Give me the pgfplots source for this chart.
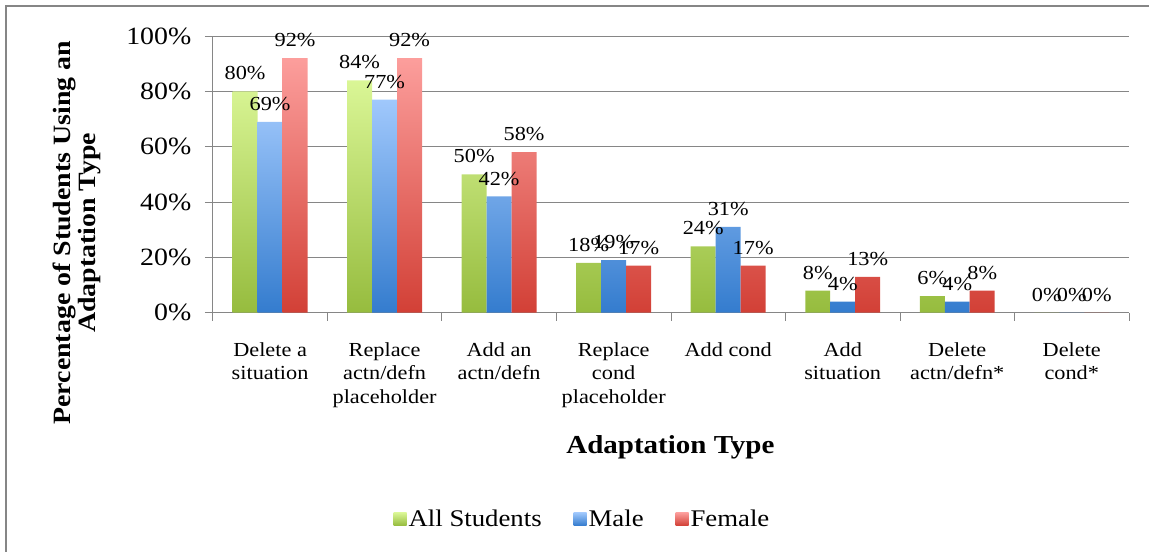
\documentclass[border=0pt]{standalone}
\usepackage{pgfplots}
\pgfplotsset{compat=1.18}
\usepackage{fontspec}
\setmainfont[FakeStretch=1.12]{Liberation Serif}
\definecolor{gtop}{RGB}{218,246,150}
\definecolor{gbot}{RGB}{150,188,62}
\definecolor{btop}{RGB}{160,200,252}
\definecolor{bbot}{RGB}{52,124,206}
\definecolor{rtop}{RGB}{252,158,156}
\definecolor{rbot}{RGB}{210,64,54}
\definecolor{axgray}{RGB}{134,134,134}
\begin{document}
\begin{tikzpicture}[x=1bp,y=1bp]
\path (0,0) rectangle (1150,-552);
\draw[axgray,line width=2bp] (6,-552) -- (6,-6) -- (1150,-6);
\begin{axis}[
  at={(213bp,-313bp)}, anchor=south west,
  scale only axis, width=917bp, height=277bp,
  xmin=0, xmax=8, ymin=0, ymax=100,
  ybar=0pt, bar width=25bp,
  axis x line*=bottom, axis y line*=left,
  axis line style={axgray, line width=0.8bp},
  xtick={0,...,8}, xticklabels={},
  major tick length=8bp,
  tick style={axgray, line width=0.8bp},
  xtick pos=bottom, ytick pos=left,
  tick align=outside,
  extra x ticks={0.5,1.5,...,7.5},
  extra x tick labels={Delete a\\situation, Replace\\actn/defn\\placeholder, Add an\\actn/defn, Replace\\cond\\placeholder, Add cond, Add\\situation, Delete\\actn/defn*, Delete\\cond*},
  extra x tick style={major tick length=0pt, grid=none, tick label style={align=center, font=\fontsize{20}{24}\selectfont, yshift=-26bp, anchor=north}},
  ytick={0,20,...,100},
  yticklabel={\pgfmathprintnumber{\tick}\%},
  yticklabel style={font=\fontsize{25}{28}\selectfont, xshift=-10bp},
  /pgf/number format/assume math mode=true,
  ymajorgrids, grid style={axgray, line width=0.8bp},
  nodes near coords={\pgfmathprintnumber{\pgfplotspointmeta}\%},
  every node near coord/.append style={font=\fontsize{20}{22}\selectfont, anchor=south, yshift=10bp, inner sep=1bp, black},
  clip=false,
  legend style={at={(370bp,-206bp)}, anchor=center, draw=none, legend columns=3, font=\fontsize{24}{28}\selectfont, /tikz/every even column/.append style={column sep=30bp}},
]
\addplot[draw=none, top color=gtop, bottom color=gbot, shading=axis, legend image code/.code={\shade[top color=gtop,bottom color=gbot] (0bp,-7bp) rectangle (13bp,6bp);}] coordinates {(0.5,80) (1.5,84) (2.5,50) (3.5,18) (4.5,24) (5.5,8) (6.5,6) (7.5,0)};
\addplot[draw=none, top color=btop, bottom color=bbot, shading=axis, legend image code/.code={\shade[top color=btop,bottom color=bbot] (0bp,-7bp) rectangle (13bp,6bp);}] coordinates {(0.5,69) (1.5,77) (2.5,42) (3.5,19) (4.5,31) (5.5,4) (6.5,4) (7.5,0)};
\addplot[draw=none, top color=rtop, bottom color=rbot, shading=axis, legend image code/.code={\shade[top color=rtop,bottom color=rbot] (0bp,-7bp) rectangle (13bp,6bp);}] coordinates {(0.5,92) (1.5,92) (2.5,58) (3.5,17) (4.5,17) (5.5,13) (6.5,8) (7.5,0)};
\legend{All Students, Male, Female}
\end{axis}
\node[font=\bfseries\fontsize{25}{25}\selectfont, rotate=90, align=center] at (77,-233) {Percentage of Students Using an\\Adaptation Type};
\node[font=\bfseries\fontsize{26}{30}\selectfont] at (671,-448) {Adaptation Type};
\end{tikzpicture}
\end{document}
